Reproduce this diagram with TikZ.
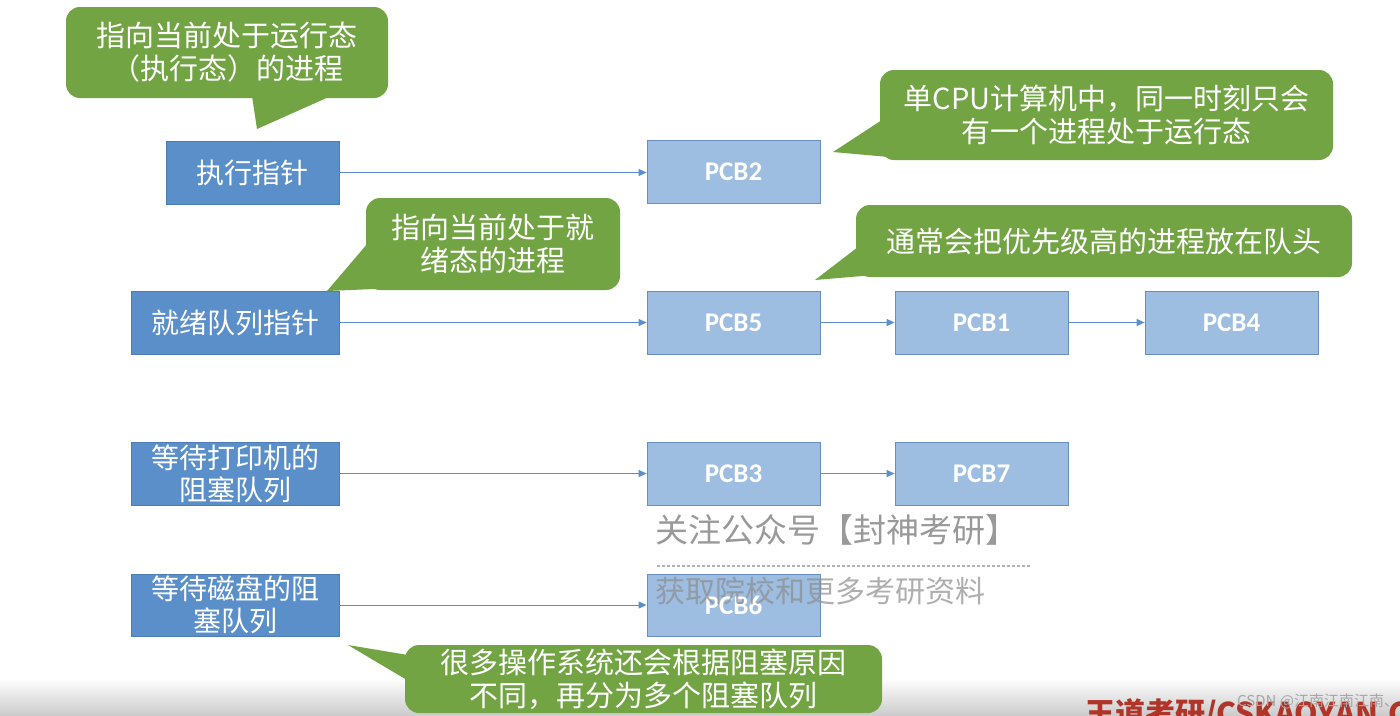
\documentclass[tikz,border=0pt]{standalone}
\usepackage{fontspec}
\setmainfont{Noto Sans CJK SC}
\newfontfamily\latinf{Carlito}
\usetikzlibrary{arrows.meta}
\definecolor{bdark}{RGB}{91,143,201}
\definecolor{bdarkline}{RGB}{78,124,180}
\definecolor{blight}{RGB}{157,189,225}
\definecolor{blightline}{RGB}{105,142,192}
\definecolor{cgreen}{RGB}{114,164,68}
\definecolor{wdred}{RGB}{176,52,40}
\begin{document}
\begin{tikzpicture}[x=1pt,y=-1pt,
  ptr/.style={draw=bdarkline, fill=bdark, line width=0.8pt, minimum height=63pt, inner sep=0pt, text=white, align=center, font=\fontsize{28}{32}\selectfont},
  pcb/.style={draw=blightline, fill=blight, line width=0.8pt, minimum width=173pt, minimum height=63pt, inner sep=0pt, text=white, font=\latinf\bfseries\fontsize{27}{32}\selectfont},
  note/.style={fill=cgreen, rounded corners=14pt, inner sep=0pt, text=white, align=center, font=\fontsize{29}{33}\selectfont},
  link/.style={draw=bdark, line width=1pt, -{Triangle[length=8pt,width=7pt]}}]
\useasboundingbox (0,0) rectangle (1400,715);
\clip (0,0) rectangle (1400,715);
\fill[white] (0,0) rectangle (1400,715);
\shade[top color=white, bottom color=black!20] (0,678) rectangle (1400,715);

% pointer boxes
\node[ptr, minimum width=173pt] (ep) at (252.5,172.5) {执行指针};
\node[ptr, minimum width=208pt] (rq) at (235,322.5) {就绪队列指针};
\node[ptr, minimum width=208pt] (pq) at (235,473.5) {等待打印机的\\阻塞队列};
\node[ptr, minimum width=208pt, minimum height=62pt] (dq) at (235,605) {等待磁盘的阻\\塞队列};

% PCBs
\node[pcb] (pcb2) at (733.5,171.5) {PCB2};
\node[pcb] (pcb5) at (733.5,322.5) {PCB5};
\node[pcb] (pcb1) at (981.5,322.5) {PCB1};
\node[pcb] (pcb4) at (1231.5,322.5) {PCB4};
\node[pcb] (pcb3) at (733.5,473.5) {PCB3};
\node[pcb] (pcb7) at (981.5,473.5) {PCB7};
\node[pcb, minimum height=62pt] (pcb6) at (733.5,605) {PCB6};

% links
\draw[link] (ep.east) -- (ep.east -| pcb2.west);
\draw[link] (rq) -- (pcb5);
\draw[link] (pcb5) -- (pcb1);
\draw[link] (pcb1) -- (pcb4);
\draw[link] (pq) -- (pcb3);
\draw[link] (pcb3) -- (pcb7);
\draw[link] (dq) -- (pcb6);

% callouts
\node[note, minimum width=322pt, minimum height=91pt] (c1) at (227,52.5) {指向当前处于运行态\\（执行态）的进程};
\fill[cgreen] (252,96) -- (257,129) -- (331,96) -- cycle;

\node[note, minimum width=453pt, minimum height=90pt] (c2) at (1106.5,115) {单CPU计算机中，同一时刻只会\\有一个进程处于运行态};
\fill[cgreen] (882,120) -- (833,152) -- (900,158) -- cycle;

\node[note, minimum width=254pt, minimum height=92pt] (c3) at (493,244) {指向当前处于就\\绪态的进程};
\fill[cgreen] (368,243) -- (327,291) -- (398,288) -- cycle;

\node[note, minimum width=496pt, minimum height=72pt] (c4) at (1104,241) {通常会把优先级高的进程放在队头};
\fill[cgreen] (858,247) -- (815,280) -- (874,275) -- cycle;

\node[note, minimum width=477pt, minimum height=68pt] (c5) at (643.5,679) {很多操作系统还会根据阻塞原因\\不同，再分为多个阻塞队列};
\fill[cgreen] (408,655) -- (348,645) -- (412,683) -- cycle;

% watermarks
\node[anchor=west, inner sep=0pt, text=black!40, font=\fontsize{33}{33}\selectfont] (wm1) at (655,530) {关注公众号【封神考研】};
\draw[black!30, line width=1.2pt, dash pattern=on 3pt off 2pt] (657,566) -- (1030,566);
\node[anchor=west, inner sep=0pt, text=black!45, opacity=0.7, font=\fontsize{30}{30}\selectfont] (wm2) at (655,591) {获取院校和更多考研资料};

\node[anchor=base west, inner sep=0pt, text=wdred, font=\bfseries\fontsize{30}{30}\selectfont] (wd) at (1085,724) {王道考研/CSKAOYAN.COM};
\node[anchor=west, inner sep=0pt, text=black!35, font=\fontsize{15}{15}\selectfont] (csdn) at (1237,701) {CSDN @江南江南江南、};
\end{tikzpicture}
\end{document}
